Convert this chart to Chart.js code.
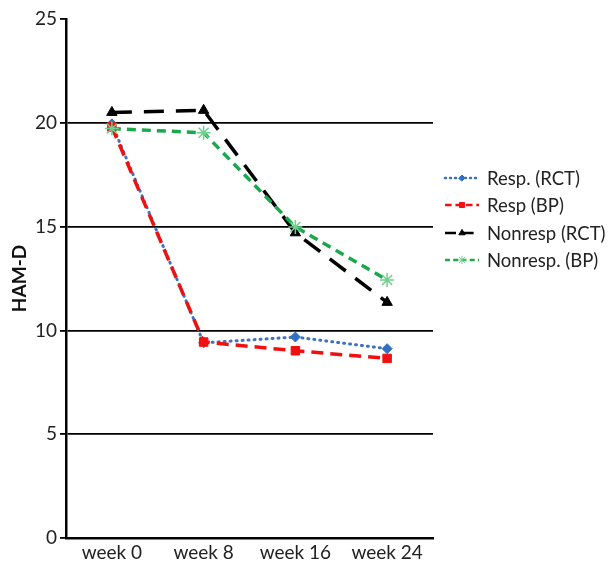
<!DOCTYPE html>
<html>
<head>
<meta charset="utf-8">
<script src="https://cdn.jsdelivr.net/npm/chart.js@4.4.1/dist/chart.umd.min.js"></script>
<style>
html,body{margin:0;padding:0;background:#fff;}
#wrap{width:610px;height:562px;position:relative;}
</style>
</head>
<body>
<div id="wrap"><canvas id="c" width="610" height="562"></canvas></div>
<script>
const categories = ["week 0", "week 8", "week 16", "week 24"];
const respRCT = [19.95, 9.4, 9.68, 9.12];
const respBP = [19.8, 9.44, 9.02, 8.65];
const nonrespRCT = [20.5, 20.6, 14.7, 11.35];
const nonrespBP = [19.72, 19.52, 14.98, 12.43];
const seriesNames = ["Resp. (RCT)", "Resp (BP)", "Nonresp (RCT)", "Nonresp. (BP)"];
const yTicks = [0, 5, 10, 15, 20, 25];

const FONT = "Lato, 'Open Sans', sans-serif";

const datasets = [
  {label: seriesNames[0], data: respRCT, borderColor: '#3d72c0', backgroundColor: '#2f6fc4',
   borderWidth: 3, borderDash: [1, 5], borderCapStyle: 'round', pointStyle: 'rectRot', pointRadius: 5,
   pointBorderWidth: 1, pointBorderColor: '#2f6fc4', order: 3},
  {label: seriesNames[1], data: respBP, borderColor: '#f01010', backgroundColor: '#f01010',
   borderWidth: 3.5, borderDash: [12, 7], pointStyle: 'rect', pointRadius: 6,
   pointBorderWidth: 1, pointBorderColor: '#f01010', order: 2},
  {label: seriesNames[2], data: nonrespRCT, borderColor: '#000000', backgroundColor: '#000000',
   borderWidth: 3.5, borderDash: [20, 12], pointStyle: 'triangle', pointRadius: 6,
   pointBorderWidth: 1, pointBorderColor: '#000', order: 1},
  {label: seriesNames[3], data: nonrespBP, borderColor: '#19a84a', backgroundColor: '#7fd69a',
   borderWidth: 3.5, borderDash: [9, 6], pointStyle: 'star', pointRadius: 7,
   pointBorderWidth: 1.5, pointBorderColor: '#6fd08f', order: 0}
];

const legendPlugin = {
  id: 'customLegend',
  afterDraw(chart) {
    const ctx = chart.ctx;
    const ys = [178, 205, 233, 260];
    const x0 = 445, x1 = 479, tx = 487;
    chart.data.datasets.forEach((ds, i) => {
      const y = ys[i];
      ctx.save();
      ctx.strokeStyle = ds.borderColor;
      ctx.lineWidth = 2.5;
      ctx.lineCap = i === 0 ? 'round' : 'butt';
      ctx.setLineDash(i === 0 ? [1, 4] : ds.borderDash.map(v => v * 0.55));
      ctx.beginPath(); ctx.moveTo(x0, y); ctx.lineTo(x1, y); ctx.stroke();
      ctx.setLineDash([]);
      ctx.fillStyle = ds.backgroundColor;
      ctx.strokeStyle = ds.pointBorderColor;
      ctx.lineWidth = 1;
      Chart.helpers.drawPoint(ctx, {pointStyle: ds.pointStyle, radius: ds.pointRadius * 0.6, borderWidth: 1, rotation: 0}, (x0 + x1) / 2, y);
      ctx.fillStyle = '#222';
      ctx.font = "18.5px " + FONT;
      ctx.textBaseline = 'middle';
      ctx.textAlign = 'left';
      ctx.fillText(ds.label, tx, y + 1);
      ctx.restore();
    });
  }
};

new Chart(document.getElementById('c'), {
  type: 'line',
  data: {labels: categories, datasets: datasets},
  options: {
    responsive: false,
    animation: false,
    devicePixelRatio: 1,
    layout: {padding: {top: 19, right: 177, left: 0, bottom: 0}},
    plugins: {legend: {display: false}, tooltip: {enabled: false}},
    elements: {line: {tension: 0, fill: false}},
    scales: {
      x: {
        offset: true,
        grid: {display: false, drawTicks: false},
        border: {display: true, color: '#000', width: 2.5},
        ticks: {color: '#222', font: {size: 19, family: FONT}, padding: 3},
        afterFit(s) { s.height = 24; }
      },
      y: {
        min: 0, max: 25,
        afterBuildTicks(s) { s.ticks = yTicks.map(v => ({value: v})); },
        grid: {
          color: ctx => (ctx.tick && (ctx.tick.value === 25 || ctx.tick.value === 0)) ? 'rgba(0,0,0,0)' : '#000',
          tickColor: '#000', lineWidth: 1.8, tickLength: 6, drawTicks: true
        },
        border: {display: true, color: '#000', width: 2.5},
        ticks: {color: '#222', font: {size: 19, family: FONT}, padding: 3},
        title: {display: true, text: 'HAM-D', color: '#111', font: {size: 19, weight: 'bold', family: FONT}, padding: {top: 8, bottom: 4}},
        afterFit(s) { s.width = 66; }
      }
    }
  },
  plugins: [legendPlugin]
});
</script>
</body>
</html>
